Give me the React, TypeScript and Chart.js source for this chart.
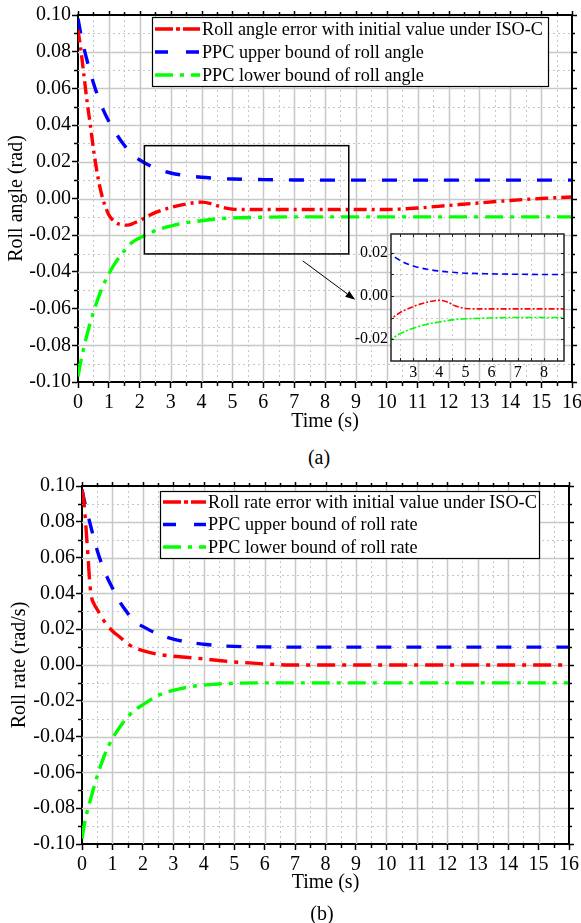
import React, { useEffect, useRef } from "react";
import { Chart, registerables } from "chart.js";

Chart.register(...registerables);

const FONT = '"Liberation Serif", "Times New Roman", "DejaVu Serif", serif';

// ---------- Data: panel (a) roll angle ----------
const timeA = [0, 0.1, 0.2, 0.3, 0.4, 0.5, 0.6, 0.7, 0.8, 0.9, 1.0, 1.2, 1.4, 1.6, 1.8, 2.0, 2.2, 2.5, 3.0, 3.5, 4.0, 4.3, 4.6, 5.0, 5.5, 6, 7, 8, 9, 10, 10.5, 11, 12, 13, 14, 15, 16];
const rollAngleError = [0.092, 0.08, 0.066, 0.052, 0.04, 0.027, 0.016, 0.007, 0.0, -0.005, -0.009, -0.0128, -0.0143, -0.0145, -0.0135, -0.012, -0.0102, -0.0077, -0.0049, -0.003, -0.002, -0.0028, -0.0045, -0.0058, -0.006, -0.006, -0.006, -0.006, -0.006, -0.006, -0.0057, -0.0052, -0.0038, -0.0024, -0.0011, 0.0, 0.0008];

const timeBound = [0, 0.1, 0.25, 0.5, 0.75, 1, 1.25, 1.5, 1.75, 2, 2.5, 3, 3.5, 4, 4.5, 5, 6, 7, 8, 10, 12, 14, 16];
const upperBoundA = [0.098, 0.089, 0.078, 0.063, 0.051, 0.042, 0.035, 0.029, 0.024, 0.021, 0.0165, 0.0139, 0.0125, 0.0116, 0.011, 0.0106, 0.0103, 0.0101, 0.01, 0.01, 0.01, 0.01, 0.01];
const lowerBoundA = [-0.097, -0.088, -0.077, -0.062, -0.05, -0.041, -0.034, -0.0285, -0.024, -0.0215, -0.0175, -0.015, -0.0132, -0.0121, -0.0111, -0.0106, -0.0102, -0.01, -0.01, -0.01, -0.01, -0.01, -0.01];

// ---------- Data: panel (b) roll rate ----------
const timeB = [0, 0.05, 0.1, 0.15, 0.2, 0.25, 0.3, 0.4, 0.5, 0.75, 1.0, 1.25, 1.5, 1.75, 2.0, 2.5, 3.0, 3.5, 4.0, 4.5, 5.0, 5.5, 6.0, 6.5, 7, 8, 10, 12, 14, 16];
const rollRateError = [0.098, 0.093, 0.084, 0.072, 0.06, 0.047, 0.039, 0.034, 0.031, 0.024, 0.019, 0.0155, 0.0118, 0.0095, 0.008, 0.006, 0.0049, 0.0042, 0.0034, 0.0025, 0.0017, 0.0012, 0.0006, 0.0002, 0.0, 0.0, 0.0, 0.0, 0.0, 0.0];
const upperBoundB = [0.098, 0.09, 0.08, 0.064, 0.052, 0.043, 0.035, 0.029, 0.024, 0.0215, 0.0172, 0.0145, 0.0127, 0.0116, 0.0108, 0.0104, 0.0101, 0.01, 0.01, 0.01, 0.01, 0.01, 0.01];
const lowerBoundB = [-0.097, -0.087, -0.077, -0.062, -0.05, -0.041, -0.0345, -0.029, -0.025, -0.0222, -0.017, -0.0142, -0.0123, -0.0112, -0.0106, -0.0102, -0.01, -0.01, -0.01, -0.01, -0.01, -0.01, -0.01];

// ---------- Ticks ----------
const xTicks = [0, 1, 2, 3, 4, 5, 6, 7, 8, 9, 10, 11, 12, 13, 14, 15, 16];
const yTicks = [-0.1, -0.08, -0.06, -0.04, -0.02, 0, 0.02, 0.04, 0.06, 0.08, 0.1];
const insetXTicks = [3, 4, 5, 6, 7, 8];
const insetYTicks = [-0.02, 0, 0.02];
const insetXRange = [2.15, 8.77];
const insetYRange = [-0.0302, 0.0288];
const arrowFrom = [7.28, -0.034];
const arrowTo = [8.98, -0.0552];

const RED = "#ff0000";
const BLUE = "#0000ff";
const GREEN = "#00ff00";

const midpoints = (arr: number[]) => arr.slice(0, -1).map((v, i) => (v + arr[i + 1]) / 2);

const pts = (xs: number[], ys: number[]) => xs.map((x, i) => ({ x, y: ys[i] }));

const gridPlugin = {
  id: "paperGrid",
  beforeDraw(chart: any, _a: any, opts: any) {
    if (!opts || !opts.fill) return;
    const { ctx, chartArea: a } = chart;
    ctx.save();
    ctx.fillStyle = opts.fill;
    ctx.fillRect(a.left, a.top, a.right - a.left, a.bottom - a.top);
    ctx.restore();
  },
  beforeDatasetsDraw(chart: any, _a: any, opts: any) {
    if (!opts || !opts.xMajor) return;
    const { ctx, chartArea: a, scales } = chart;
    const x = scales.x, y = scales.y;
    ctx.save();
    const vline = (v: number) => {
      const p = Math.round(x.getPixelForValue(v)) + 0.5;
      if (p <= a.left + 2 || p >= a.right - 2) return;
      ctx.beginPath(); ctx.moveTo(p, a.top); ctx.lineTo(p, a.bottom); ctx.stroke();
    };
    const hline = (v: number) => {
      const p = Math.round(y.getPixelForValue(v)) + 0.5;
      if (p <= a.top + 2 || p >= a.bottom - 2) return;
      ctx.beginPath(); ctx.moveTo(a.left, p); ctx.lineTo(a.right, p); ctx.stroke();
    };
    ctx.strokeStyle = "#c6c6c6";
    ctx.lineWidth = 1;
    ctx.setLineDash([2, 3]);
    opts.xMinor.forEach(vline);
    opts.yMinor.forEach(hline);
    ctx.setLineDash([]);
    ctx.lineWidth = 1.5;
    ctx.strokeStyle = "#c8c8c8";
    opts.xMajor.forEach(vline);
    opts.yMajor.forEach(hline);
    ctx.restore();
  },
  afterDatasetsDraw(chart: any, _a: any, opts: any) {
    if (!opts || !opts.xMajor) return;
    const { ctx, chartArea: a, scales } = chart;
    const x = scales.x, y = scales.y;
    ctx.save();
    ctx.strokeStyle = opts.frameColor || "#000";
    ctx.setLineDash([]);
    if (opts.fullFrame) {
      ctx.lineWidth = 1.5;
      ctx.strokeRect(a.left, a.top, a.right - a.left, a.bottom - a.top);
      ctx.lineWidth = 1;
      opts.yMajor.concat(opts.yMinor).forEach((v: number) => {
        const p = Math.round(y.getPixelForValue(v)) + 0.5;
        ctx.beginPath(); ctx.moveTo(a.left, p); ctx.lineTo(a.left + 3, p); ctx.stroke();
        ctx.beginPath(); ctx.moveTo(a.right, p); ctx.lineTo(a.right - 3, p); ctx.stroke();
      });
      opts.xMajor.concat(opts.xMinor).forEach((v: number) => {
        const p = Math.round(x.getPixelForValue(v)) + 0.5;
        ctx.beginPath(); ctx.moveTo(p, a.bottom); ctx.lineTo(p, a.bottom - 3); ctx.stroke();
        ctx.beginPath(); ctx.moveTo(p, a.top); ctx.lineTo(p, a.top + 3); ctx.stroke();
      });
    } else {
      ctx.lineWidth = 2;
      ctx.beginPath();
      ctx.moveTo(a.left, a.top); ctx.lineTo(a.right, a.top); ctx.lineTo(a.right, a.bottom);
      ctx.stroke();
      ctx.lineWidth = 1.5;
      opts.xMinor.forEach((v: number) => {
        const p = Math.round(x.getPixelForValue(v)) + 0.5;
        ctx.beginPath(); ctx.moveTo(p, a.bottom); ctx.lineTo(p, a.bottom + 4); ctx.stroke();
        ctx.beginPath(); ctx.moveTo(p, a.top); ctx.lineTo(p, a.top - 3); ctx.stroke();
      });
      opts.xMajor.forEach((v: number) => {
        const p = Math.round(x.getPixelForValue(v)) + 0.5;
        ctx.beginPath(); ctx.moveTo(p, a.top); ctx.lineTo(p, a.top - 4); ctx.stroke();
      });
      opts.yMinor.forEach((v: number) => {
        const p = Math.round(y.getPixelForValue(v)) + 0.5;
        ctx.beginPath(); ctx.moveTo(a.left, p); ctx.lineTo(a.left - 4, p); ctx.stroke();
        ctx.beginPath(); ctx.moveTo(a.right, p); ctx.lineTo(a.right + 3, p); ctx.stroke();
      });
      opts.yMajor.forEach((v: number) => {
        const p = Math.round(y.getPixelForValue(v)) + 0.5;
        ctx.beginPath(); ctx.moveTo(a.right, p); ctx.lineTo(a.right + 5, p); ctx.stroke();
      });
    }
    ctx.restore();
  },
};

const legendPlugin = {
  id: "boxLegend",
  afterDatasetsDraw(chart: any, _a: any, opts: any) {
    if (!opts || !opts.left) return;
    const { ctx } = chart;
    ctx.save();
    ctx.fillStyle = "#fff";
    ctx.fillRect(opts.left, opts.top, opts.width, opts.height);
    ctx.strokeStyle = "#000";
    ctx.lineWidth = 1.2;
    ctx.setLineDash([]);
    ctx.strokeRect(opts.left + 0.5, opts.top + 0.5, opts.width, opts.height);
    chart.data.datasets.forEach((ds: any, i: number) => {
      const cy = opts.top + opts.firstRow + i * opts.rowH;
      ctx.strokeStyle = ds.borderColor;
      ctx.lineWidth = ds.borderWidth;
      ctx.setLineDash(opts.dashes[i]);
      ctx.beginPath();
      ctx.moveTo(opts.left + opts.pad, cy);
      ctx.lineTo(opts.left + opts.pad + opts.sample, cy);
      ctx.stroke();
      ctx.setLineDash([]);
      ctx.fillStyle = "#000";
      ctx.font = `${opts.fontSize}px ${FONT}`;
      ctx.textBaseline = "middle";
      ctx.textAlign = "left";
      ctx.fillText(ds.label, opts.left + opts.pad + opts.sample + opts.gap, cy + 1);
    });
    ctx.restore();
  },
};

const zoomPlugin = {
  id: "zoomMark",
  afterDatasetsDraw(chart: any, _a: any, opts: any) {
    if (!opts || !opts.rect) return;
    const { ctx, scales } = chart;
    const x = scales.x, y = scales.y;
    ctx.save();
    ctx.strokeStyle = "#000";
    ctx.lineWidth = 1.5;
    ctx.setLineDash([]);
    const x0 = x.getPixelForValue(opts.rect[0][0]);
    const x1 = x.getPixelForValue(opts.rect[0][1]);
    const y0 = y.getPixelForValue(opts.rect[1][1]);
    const y1 = y.getPixelForValue(opts.rect[1][0]);
    ctx.strokeRect(x0, y0, x1 - x0, y1 - y0);
    const ax = x.getPixelForValue(opts.from[0]);
    const ay = y.getPixelForValue(opts.from[1]);
    const bx = x.getPixelForValue(opts.to[0]);
    const by = y.getPixelForValue(opts.to[1]);
    const ang = Math.atan2(by - ay, bx - ax);
    const hl = 10, hw = 3.5;
    ctx.lineWidth = 1;
    ctx.beginPath();
    ctx.moveTo(ax, ay);
    ctx.lineTo(bx - hl * Math.cos(ang), by - hl * Math.sin(ang));
    ctx.stroke();
    ctx.fillStyle = "#000";
    ctx.beginPath();
    ctx.moveTo(bx, by);
    ctx.lineTo(bx - hl * Math.cos(ang) - hw * Math.sin(ang), by - hl * Math.sin(ang) + hw * Math.cos(ang));
    ctx.lineTo(bx - hl * Math.cos(ang) + hw * Math.sin(ang), by - hl * Math.sin(ang) - hw * Math.cos(ang));
    ctx.closePath();
    ctx.fill();
    ctx.restore();
  },
};

const tickFont = { family: FONT, size: 20, lineHeight: 1.2 };
const titleFont = { family: FONT, size: 20, lineHeight: 1.2 };

function mainConfig(p: any) {
  return {
    type: "line",
    data: {
      datasets: [
        { label: p.labels[0], data: pts(p.tErr, p.err), borderColor: RED, borderWidth: 3.4, borderDash: p.dashes[0], pointRadius: 0, cubicInterpolationMode: "monotone", fill: false },
        { label: p.labels[1], data: pts(timeBound, p.up), borderColor: BLUE, borderWidth: 3.4, borderDash: p.dashes[1], pointRadius: 0, cubicInterpolationMode: "monotone", fill: false },
        { label: p.labels[2], data: pts(timeBound, p.low), borderColor: GREEN, borderWidth: 3.4, borderDash: p.dashes[2], pointRadius: 0, cubicInterpolationMode: "monotone", fill: false },
      ],
    },
    options: {
      responsive: false,
      animation: false,
      devicePixelRatio: 1,
      layout: { padding: p.padding },
      plugins: {
        legend: { display: false },
        tooltip: { enabled: false },
        paperGrid: { xMajor: xTicks, xMinor: midpoints(xTicks), yMajor: yTicks, yMinor: midpoints(yTicks) },
        boxLegend: p.legend,
        zoomMark: p.zoom || {},
      },
      scales: {
        x: {
          type: "linear",
          min: 0,
          max: 16,
          afterBuildTicks: (s: any) => { s.ticks = xTicks.map((v) => ({ value: v })); },
          afterFit: (s: any) => { s.height = p.xAxisH; s.paddingLeft = 0; s.paddingRight = 0; },
          ticks: { autoSkip: false, maxRotation: 0, color: "#000", font: tickFont, padding: 3, callback: (v: any) => String(v) },
          grid: { drawOnChartArea: false, drawTicks: true, tickLength: 6, tickColor: "#000", tickWidth: 1.5 },
          border: { display: true, color: "#000", width: 2 },
          title: { display: true, text: "Time (s)", color: "#000", font: titleFont, padding: { top: 0, bottom: p.xTitlePad } },
        },
        y: {
          type: "linear",
          min: -0.1,
          max: 0.1,
          afterBuildTicks: (s: any) => { s.ticks = yTicks.map((v) => ({ value: v })); },
          afterFit: (s: any) => { s.width = p.yAxisW; s.paddingTop = 0; s.paddingBottom = 0; },
          ticks: { color: "#000", font: tickFont, padding: 1, callback: (v: any) => Number(v).toFixed(2) },
          grid: { drawOnChartArea: false, drawTicks: true, tickLength: 6, tickColor: "#000", tickWidth: 1.5 },
          border: { display: true, color: "#000", width: 2 },
          title: { display: true, text: p.yTitle, color: "#000", font: titleFont, padding: { top: p.yTitlePad, bottom: 0 } },
        },
      },
    },
    plugins: [gridPlugin, legendPlugin, zoomPlugin],
  };
}

function insetConfig() {
  const insetFont = { family: FONT, size: 16, lineHeight: 1.2 };
  return {
    type: "line",
    data: {
      datasets: [
        { label: "err", data: pts(timeA, rollAngleError), borderColor: RED, borderWidth: 1.6, borderDash: [6, 2, 2, 2], pointRadius: 0, cubicInterpolationMode: "monotone", fill: false },
        { label: "up", data: pts(timeBound, upperBoundA), borderColor: BLUE, borderWidth: 1.6, borderDash: [6, 4], pointRadius: 0, cubicInterpolationMode: "monotone", fill: false },
        { label: "low", data: pts(timeBound, lowerBoundA), borderColor: GREEN, borderWidth: 1.6, borderDash: [7, 2, 2, 2], pointRadius: 0, cubicInterpolationMode: "monotone", fill: false },
      ],
    },
    options: {
      responsive: false,
      animation: false,
      devicePixelRatio: 1,
      layout: { padding: { top: 6, right: 17, left: 0, bottom: 0 } },
      plugins: {
        legend: { display: false },
        tooltip: { enabled: false },
        paperGrid: {
          fill: "#ffffff",
          fullFrame: true,
          frameColor: "#222",
          xMajor: insetXTicks,
          xMinor: [2.5].concat(midpoints(insetXTicks), [8.5]),
          yMajor: insetYTicks,
          yMinor: [-0.01, 0.01],
        },
      },
      scales: {
        x: {
          type: "linear",
          min: insetXRange[0],
          max: insetXRange[1],
          afterBuildTicks: (s: any) => { s.ticks = insetXTicks.map((v) => ({ value: v })); },
          afterFit: (s: any) => { s.height = 29; s.paddingLeft = 0; s.paddingRight = 0; },
          ticks: { autoSkip: false, maxRotation: 0, color: "#000", font: insetFont, padding: 2, callback: (v: any) => String(v) },
          grid: { display: false, drawTicks: false, tickLength: 0 },
          border: { display: false },
        },
        y: {
          type: "linear",
          min: insetYRange[0],
          max: insetYRange[1],
          afterBuildTicks: (s: any) => { s.ticks = insetYTicks.map((v) => ({ value: v })); },
          afterFit: (s: any) => { s.width = 51; s.paddingTop = 0; s.paddingBottom = 0; },
          ticks: { color: "#000", font: insetFont, padding: 3, callback: (v: any) => Number(v).toFixed(2) },
          grid: { display: false, drawTicks: false, tickLength: 0 },
          border: { display: false },
        },
      },
    },
    plugins: [gridPlugin],
  };
}

export default function App() {
  const refA = useRef<HTMLCanvasElement>(null);
  const refInset = useRef<HTMLCanvasElement>(null);
  const refB = useRef<HTMLCanvasElement>(null);

  useEffect(() => {
    const chartA = new Chart(refA.current as any, mainConfig({
      labels: ["Roll angle error with initial value under ISO-C", "PPC upper bound of roll angle", "PPC lower bound of roll angle"],
      tErr: timeA, err: rollAngleError, up: upperBoundA, low: lowerBoundA,
      dashes: [[13, 5, 3, 5], [15, 16], [18, 7, 4, 7]],
      padding: { top: 15, right: 9, left: 0, bottom: 0 },
      xAxisH: 58, yAxisW: 78, xTitlePad: 6, yTitlePad: 5,
      yTitle: "Roll angle (rad)",
      legend: { left: 152, top: 17, width: 396, height: 69, firstRow: 12, rowH: 23, pad: 3, sample: 45, gap: 2, fontSize: 18.2, dashes: [[18, 3, 4, 3], [13, 18], [18, 7, 4, 7]] },
      zoom: { rect: [insetXRange, insetYRange], from: arrowFrom, to: arrowTo },
    }) as any);
    const chartInset = new Chart(refInset.current as any, insetConfig() as any);
    const chartB = new Chart(refB.current as any, mainConfig({
      labels: ["Roll rate error with initial value under ISO-C", "PPC upper bound of roll rate", "PPC lower bound of roll rate"],
      tErr: timeB, err: rollRateError, up: upperBoundB, low: lowerBoundB,
      dashes: [[18, 7, 4, 7], [15, 15], [18, 7, 4, 7]],
      padding: { top: 16, right: 12, left: 0, bottom: 0 },
      xAxisH: 79, yAxisW: 82, xTitlePad: 28, yTitlePad: 8,
      yTitle: "Roll rate (rad/s)",
      legend: { left: 160, top: 21, width: 379, height: 67, firstRow: 11, rowH: 22.5, pad: 3, sample: 43, gap: 2, fontSize: 18.2, dashes: [[18, 3, 4, 3], [13, 18], [18, 7, 4, 7]] },
    }) as any);
    return () => { chartA.destroy(); chartInset.destroy(); chartB.destroy(); };
  }, []);

  const cap: React.CSSProperties = { position: "absolute", fontFamily: FONT, fontSize: 20, lineHeight: 1, transform: "translate(-50%, -50%)", color: "#000", whiteSpace: "nowrap" };

  return (
    <div style={{ position: "absolute", left: 0, top: 0, width: 581, height: 923, background: "#fff", overflow: "hidden" }}>
      <canvas ref={refA} width={581} height={440} style={{ position: "absolute", left: 0, top: 0, width: 581, height: 440 }} />
      <canvas ref={refInset} width={241} height={162} style={{ position: "absolute", left: 340, top: 228, width: 241, height: 162 }} />
      <canvas ref={refB} width={581} height={453} style={{ position: "absolute", left: 0, top: 470, width: 581, height: 453 }} />
      <div style={{ ...cap, left: 319, top: 457 }}>(a)</div>
      <div style={{ ...cap, left: 322, top: 913 }}>(b)</div>
    </div>
  );
}
